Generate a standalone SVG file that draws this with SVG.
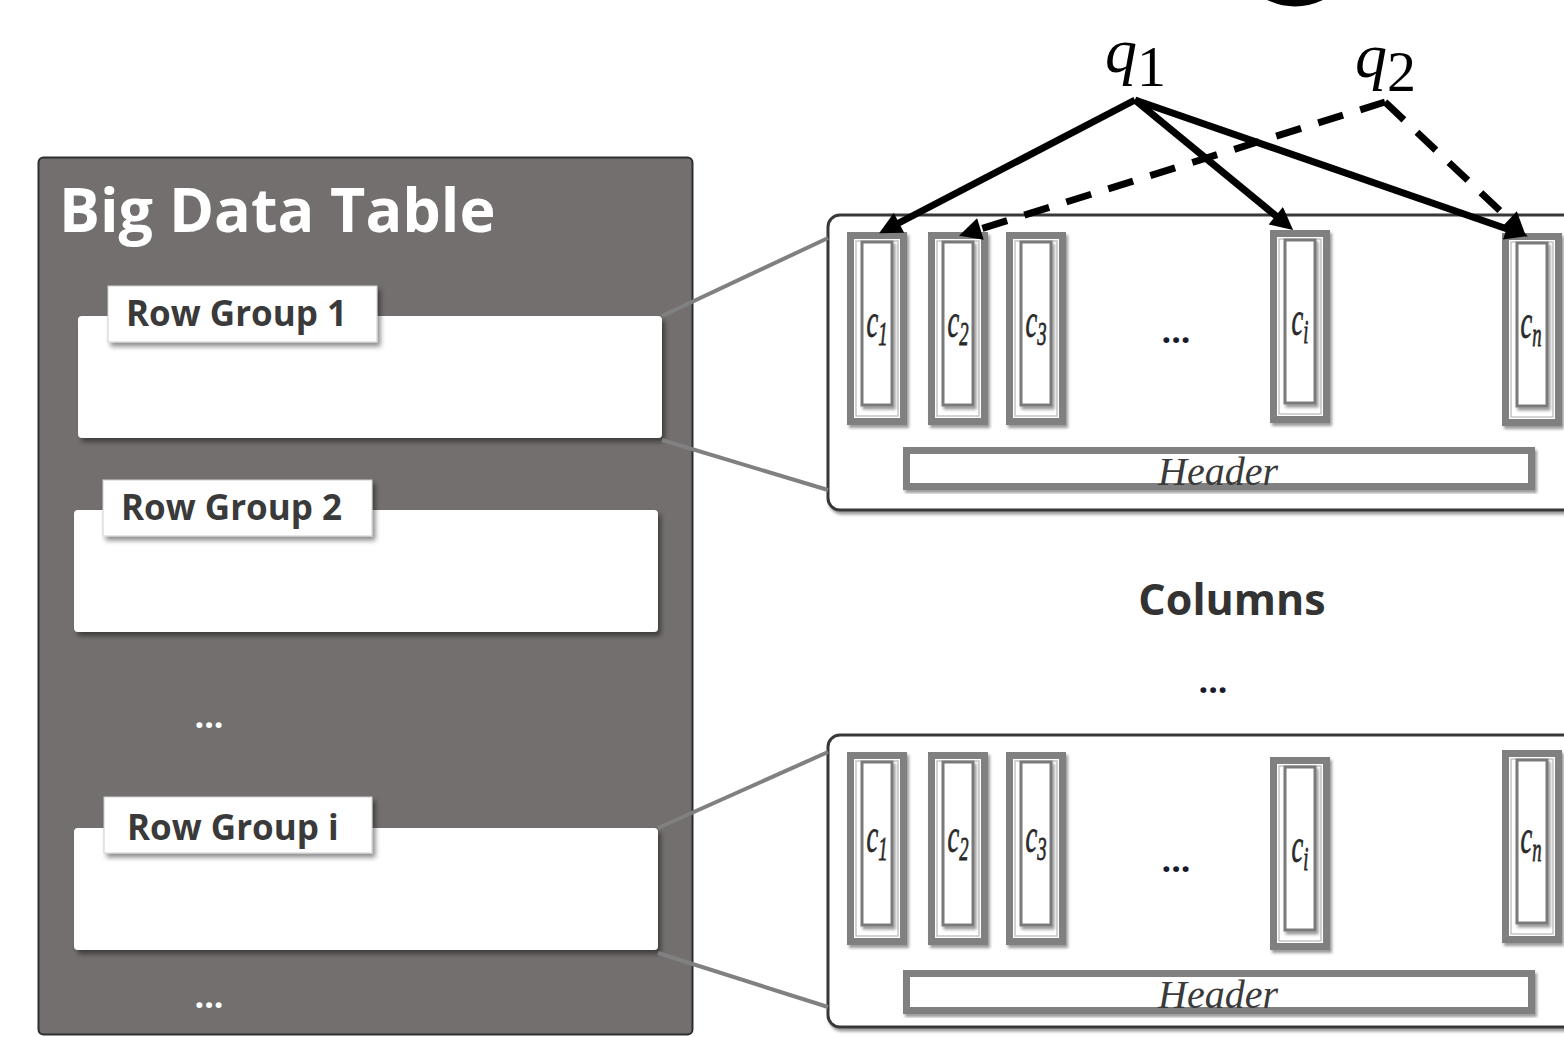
<svg xmlns="http://www.w3.org/2000/svg" width="1564" height="1037" viewBox="0 0 1564 1037">
<style>
.bold{font-family:"Open Sans","Noto Sans","Liberation Sans",sans-serif;font-weight:bold}
.rg-label{font-size:35px;fill:#3a3a3a}
.math{font-family:"Liberation Serif","DejaVu Serif",serif;font-style:italic}
.col-outer{fill:#fff;stroke:#808080;stroke-width:7}
.col-ring{fill:none;stroke:#c4c4c4;stroke-width:1.5}
.col-inner{fill:#fff;stroke:#7a7a7a;stroke-width:3}
.hdr{fill:#fff;stroke:#808080;stroke-width:7}
.hdr-text{font-size:40px;fill:#3a3a3a;text-anchor:middle}
.panel{fill:#fff;stroke:#383838;stroke-width:3}
.rg-box{fill:#fff}
.rg-tab{fill:#fff;stroke:#cfcfcf;stroke-width:1}
.link{stroke:#808080;stroke-width:4;fill:none}
.q{stroke:#000;stroke-width:7;fill:none}
.qd{stroke:#000;stroke-width:7;fill:none;stroke-dasharray:26 18}
.dots-w{font-size:34px;fill:#fff;text-anchor:middle}
.dots-d{font-size:34px;fill:#1a1a2e;text-anchor:middle}
.clabel{font-size:48px;fill:#2a2a2a;stroke:#2a2a2a;stroke-width:0.8}
</style>
<defs>
<filter id="sh" x="-20%" y="-20%" width="150%" height="150%">
<feDropShadow dx="3" dy="4" stdDeviation="2.5" flood-color="#000" flood-opacity="0.45"/>
</filter>
<filter id="sh2" x="-30%" y="-10%" width="170%" height="130%">
<feDropShadow dx="2" dy="3" stdDeviation="1.5" flood-color="#000" flood-opacity="0.4"/>
</filter>
<marker id="ah" viewBox="0 0 10 10" refX="3" refY="5" markerWidth="3.4" markerHeight="3.2" orient="auto">
<path d="M0,0 L10,5 L0,10 z" fill="#000"/>
</marker>
<g id="col">
<rect class="col-outer" x="3.5" y="3.5" width="53" height="186" filter="url(#sh2)"/>
<rect class="col-ring" x="9" y="9" width="42" height="175"/>
<rect class="col-inner" x="15" y="10" width="30" height="163" filter="url(#sh2)"/>
</g>
</defs>

<rect width="1564" height="1037" fill="#fff"/>
<path d="M1267,0 Q1295,13 1323,0 Z" fill="#000"/>

<g id="big-data-table">
<rect x="38.5" y="157.5" width="654" height="877" rx="5" fill="#736f6e" stroke="#2e2e2e" stroke-width="2"/>
<text class="bold" x="59" y="232" font-size="61" fill="#fff">Big Data Table</text>
<text class="bold dots-w" x="209" y="728">...</text>
<text class="bold dots-w" x="209" y="1008">...</text>
</g>

<g id="row-group-1">
<rect class="rg-box" x="78" y="316" width="584" height="122" rx="4" filter="url(#sh)"/>
<rect class="rg-tab" x="108" y="286" width="269" height="56" filter="url(#sh)"/>
<text class="bold rg-label" x="126" y="326">Row Group 1</text>
</g>

<g id="row-group-2">
<rect class="rg-box" x="74" y="510" width="584" height="122" rx="4" filter="url(#sh)"/>
<rect class="rg-tab" x="103" y="480" width="269" height="56" filter="url(#sh)"/>
<text class="bold rg-label" x="121" y="520">Row Group 2</text>
</g>

<g id="row-group-i">
<rect class="rg-box" x="74" y="828" width="584" height="122" rx="4" filter="url(#sh)"/>
<rect class="rg-tab" x="104" y="797" width="268" height="56" filter="url(#sh)"/>
<text class="bold rg-label" x="127" y="840">Row Group i</text>
</g>

<g id="column-panel-1">
<rect class="panel" x="828" y="215" width="780" height="295" rx="12" filter="url(#sh2)"/>
<use href="#col" x="847" y="232"/>
<use href="#col" x="928" y="232"/>
<use href="#col" x="1006" y="232"/>
<use href="#col" x="1270" y="230"/>
<use href="#col" x="1502" y="233"/>
<g transform="translate(877,337) scale(0.55,1)"><text class="math clabel" text-anchor="middle">c<tspan font-size="34" dy="8">1</tspan></text></g>
<g transform="translate(958,337) scale(0.55,1)"><text class="math clabel" text-anchor="middle">c<tspan font-size="34" dy="8">2</tspan></text></g>
<g transform="translate(1036,337) scale(0.55,1)"><text class="math clabel" text-anchor="middle">c<tspan font-size="34" dy="8">3</tspan></text></g>
<g transform="translate(1300,335) scale(0.55,1)"><text class="math clabel" text-anchor="middle">c<tspan font-size="34" dy="8">i</tspan></text></g>
<g transform="translate(1531,338) scale(0.55,1)"><text class="math clabel" text-anchor="middle">c<tspan font-size="34" dy="8">n</tspan></text></g>
<text class="bold dots-d" x="1176" y="343">...</text>
<rect class="hdr" x="906.5" y="450.5" width="625" height="36" filter="url(#sh2)"/>
<text class="math hdr-text" x="1218" y="485">Header</text>
</g>

<g id="columns-label">
<text class="bold" x="1232" y="615" font-size="43" fill="#333" text-anchor="middle">Columns</text>
<text class="bold dots-d" x="1213" y="693">...</text>
</g>

<g id="column-panel-i">
<rect class="panel" x="828" y="735" width="780" height="292" rx="12" filter="url(#sh2)"/>
<use href="#col" x="847" y="752"/>
<use href="#col" x="928" y="752"/>
<use href="#col" x="1006" y="752"/>
<use href="#col" x="1270" y="757"/>
<use href="#col" x="1502" y="750"/>
<g transform="translate(877,852) scale(0.55,1)"><text class="math clabel" text-anchor="middle">c<tspan font-size="34" dy="8">1</tspan></text></g>
<g transform="translate(958,852) scale(0.55,1)"><text class="math clabel" text-anchor="middle">c<tspan font-size="34" dy="8">2</tspan></text></g>
<g transform="translate(1036,852) scale(0.55,1)"><text class="math clabel" text-anchor="middle">c<tspan font-size="34" dy="8">3</tspan></text></g>
<g transform="translate(1300,862) scale(0.55,1)"><text class="math clabel" text-anchor="middle">c<tspan font-size="34" dy="8">i</tspan></text></g>
<g transform="translate(1531,853) scale(0.55,1)"><text class="math clabel" text-anchor="middle">c<tspan font-size="34" dy="8">n</tspan></text></g>
<text class="bold dots-d" x="1176" y="872">...</text>
<rect class="hdr" x="906.5" y="973.5" width="625" height="37" filter="url(#sh2)"/>
<text class="math hdr-text" x="1218" y="1008">Header</text>
</g>

<g id="query-q1">
<text class="math" x="1105" y="72" font-size="64" fill="#000">q<tspan font-style="normal" font-size="58" dy="14">1</tspan></text>
</g>
<g id="query-q2">
<text class="math" x="1355" y="77" font-size="64" fill="#000">q<tspan font-style="normal" font-size="58" dy="14">2</tspan></text>
</g>

<g id="connectors">
<line class="link" x1="662" y1="316" x2="828" y2="238"/>
<line class="link" x1="662" y1="440" x2="828" y2="490"/>
<line class="link" x1="658" y1="828" x2="828" y2="752"/>
<line class="link" x1="658" y1="953" x2="828" y2="1007"/>
<path class="q" d="M1135,100 L893,226" marker-end="url(#ah)"/>
<path class="q" d="M1135,100 L1281,220" marker-end="url(#ah)"/>
<path class="q" d="M1135,100 L1513,231" marker-end="url(#ah)"/>
<path class="qd" d="M1385,102 L974,231" marker-end="url(#ah)"/>
<path class="qd" d="M1385,102 L1514,224" marker-end="url(#ah)"/>
</g>
</svg>
